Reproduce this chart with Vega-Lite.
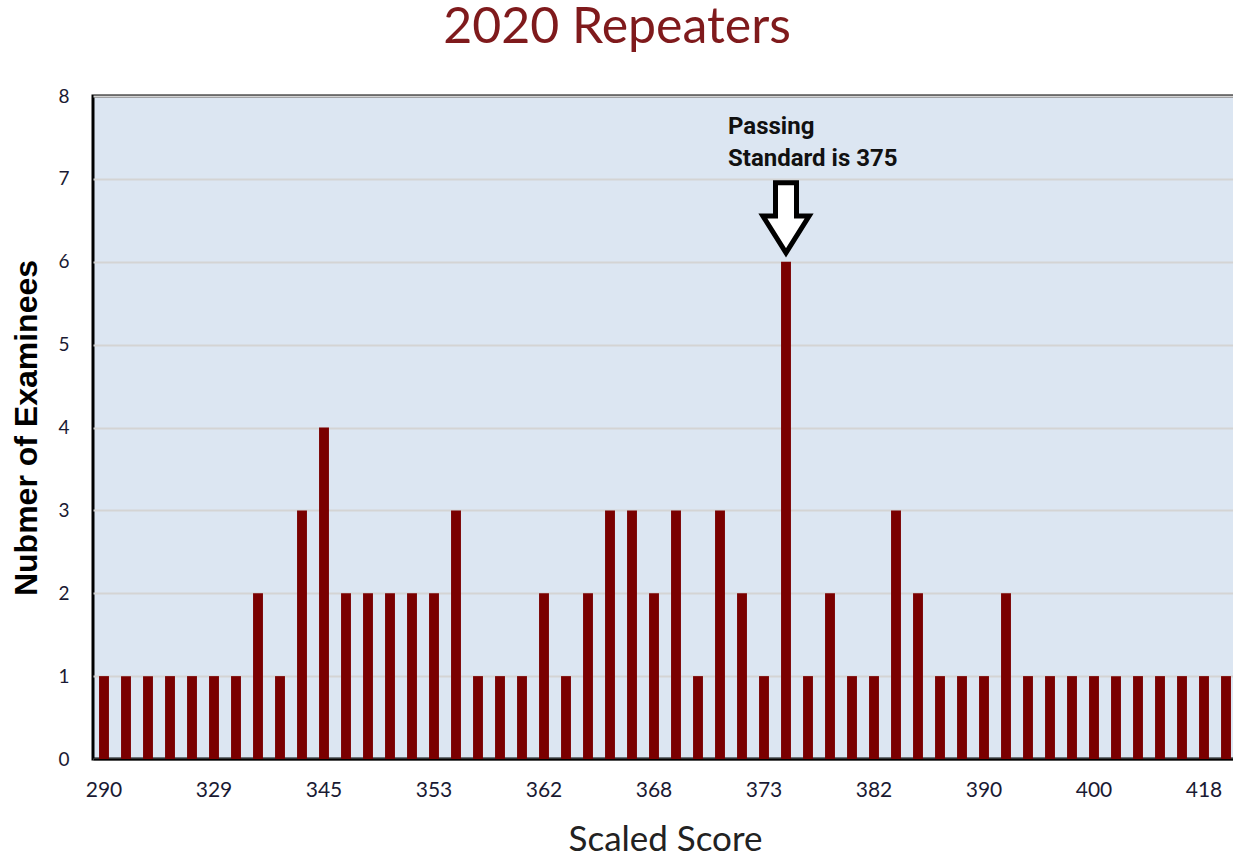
{
  "$schema": "https://vega.github.io/schema/vega-lite/v6.json",
  "autosize": "none",
  "padding": {"left": 93, "top": 96, "right": 0, "bottom": 97},
  "width": 1144,
  "height": 663,
  "background": "white",
  "title": {
    "text": "2020 Repeaters",
    "font": "Lato",
    "fontSize": 50,
    "fontWeight": "normal",
    "color": "#7f1a1c",
    "anchor": "middle",
    "frame": "group",
    "dx": -48,
    "baseline": "alphabetic",
    "offset": -6
  },
  "config": {
    "view": {"fill": "#dce6f2", "stroke": "#000000", "strokeWidth": 3},
    "axis": {"labelFont": "Lato", "titleFont": "Lato"}
  },
  "datasets": {
    "bars": [
      {"score": 290, "count": 1}, {"score": 301, "count": 1}, {"score": 310, "count": 1}, {"score": 315, "count": 1},
      {"score": 322, "count": 1}, {"score": 329, "count": 1}, {"score": 333, "count": 1}, {"score": 336, "count": 2},
      {"score": 339, "count": 1}, {"score": 342, "count": 3}, {"score": 345, "count": 4}, {"score": 346, "count": 2},
      {"score": 348, "count": 2}, {"score": 350, "count": 2}, {"score": 351, "count": 2}, {"score": 353, "count": 2},
      {"score": 355, "count": 3}, {"score": 357, "count": 1}, {"score": 358, "count": 1}, {"score": 360, "count": 1},
      {"score": 362, "count": 2}, {"score": 363, "count": 1}, {"score": 364, "count": 2}, {"score": 365, "count": 3},
      {"score": 366, "count": 3}, {"score": 368, "count": 2}, {"score": 369, "count": 3}, {"score": 370, "count": 1},
      {"score": 371, "count": 3}, {"score": 372, "count": 2}, {"score": 373, "count": 1}, {"score": 375, "count": 6},
      {"score": 376, "count": 1}, {"score": 377, "count": 2}, {"score": 379, "count": 1}, {"score": 382, "count": 1},
      {"score": 383, "count": 3}, {"score": 385, "count": 2}, {"score": 386, "count": 1}, {"score": 388, "count": 1},
      {"score": 390, "count": 1}, {"score": 391, "count": 2}, {"score": 393, "count": 1}, {"score": 395, "count": 1},
      {"score": 398, "count": 1}, {"score": 400, "count": 1}, {"score": 402, "count": 1}, {"score": 405, "count": 1},
      {"score": 408, "count": 1}, {"score": 412, "count": 1}, {"score": 418, "count": 1}, {"score": 425, "count": 1}
    ]
  },
  "layer": [
    {
      "data": {"name": "bars"},
      "mark": {"type": "bar", "color": "#7a0000"},
      "encoding": {
        "x": {
          "field": "score",
          "type": "ordinal",
          "scale": {"paddingInner": 0.55, "paddingOuter": 0.275},
          "axis": {
            "title": "Scaled Score",
            "titleFontSize": 35,
            "titleFontWeight": "normal",
            "titleColor": "#222222",
            "titlePadding": 22,
            "values": [290, 329, 345, 353, 362, 368, 373, 382, 390, 400, 418],
            "labelAngle": 0,
            "labelFontSize": 21,
            "labelColor": "#1a1a33",
            "labelPadding": 20,
            "ticks": false,
            "domainColor": "#000000",
            "domainWidth": 2
          }
        },
        "y": {
          "field": "count",
          "type": "quantitative",
          "scale": {"domain": [0, 8]},
          "axis": {
            "title": "Nubmer of Examinees",
            "titleFont": "Liberation Sans",
            "titleFontSize": 32,
            "titleFontWeight": "bold",
            "titleColor": "#000000",
            "titlePadding": 14,
            "values": [0, 1, 2, 3, 4, 5, 6, 7, 8],
            "format": "d",
            "labelFontSize": 19,
            "labelColor": "#1a1a33",
            "labelPadding": 24,
            "ticks": false,
            "domain": false,
            "grid": true,
            "gridColor": "#d4d4d4",
            "gridWidth": 2
          }
        }
      }
    },
    {
      "data": {"values": [{}]},
      "mark": {
        "type": "point",
        "shape": "M -0.3 -1 L 0.3 -1 L 0.3 -0.05 L 0.66 -0.05 L 0 1 L -0.66 -0.05 L -0.3 -0.05 Z",
        "size": 4900,
        "filled": true,
        "fill": "#ffffff",
        "stroke": "#000000",
        "strokeWidth": 5,
        "opacity": 1
      },
      "encoding": {
        "x": {"datum": 375, "type": "ordinal"},
        "y": {"datum": 6.53, "type": "quantitative"}
      }
    },
    {
      "data": {"values": [{}]},
      "mark": {
        "type": "text",
        "text": ["Passing", "Standard is 375"],
        "font": "Roboto",
        "fontSize": 24,
        "fontWeight": "bold",
        "color": "#111111",
        "align": "left",
        "baseline": "alphabetic",
        "lineHeight": 32,
        "dx": -58
      },
      "encoding": {
        "x": {"datum": 375, "type": "ordinal"},
        "y": {"datum": 7.54, "type": "quantitative"}
      }
    }
  ]
}
